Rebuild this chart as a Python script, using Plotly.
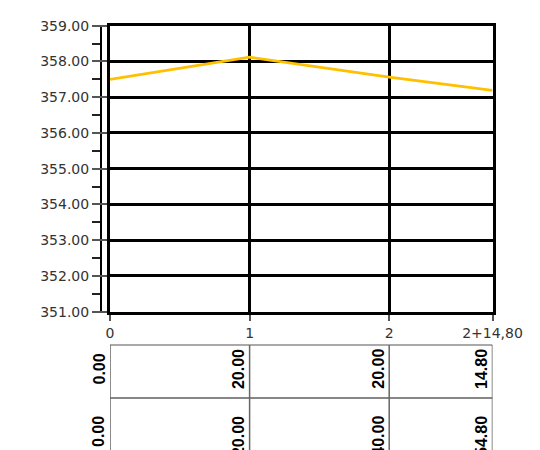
import plotly.graph_objects as go

# ---- data ----
distances = [0.0, 20.0, 40.0, 54.8]
station_labels = ["0", "1", "2", "2+14,80"]
elevations = [357.50, 358.12, 357.56, 357.19]
y_min, y_max = 351, 359

segment_lengths = [0.0] + [distances[i] - distances[i - 1] for i in range(1, len(distances))]
cumulative = distances

W, H = 540, 450
OFF = 8  # page body margin


def px(xp):
    return (xp - OFF) / W


def py(yp):
    return 1 - (yp - OFF) / H


# layout geometry (screen pixels)
x_left_px, x_right_px = 110.0, 492.5
y_top_px, y_bot_px = 25.7, 311.7

fig = go.Figure()
fig.add_trace(go.Scatter(
    x=distances, y=elevations, mode="lines",
    line=dict(color="#FFC000", width=2.7),
    hoverinfo="skip", showlegend=False,
))
fig.add_trace(go.Scatter(
    x=[distances[0]], y=[y_min], yaxis="y2", mode="markers",
    marker=dict(opacity=0), hoverinfo="skip", showlegend=False,
))

tick_font = dict(family="DejaVu Sans", size=14, color="#333333")

fig.update_layout(
    width=W, height=H,
    margin=dict(l=0, r=0, t=0, b=0, pad=0, autoexpand=False),
    paper_bgcolor="white", plot_bgcolor="white",
    xaxis=dict(
        domain=[px(x_left_px), px(x_right_px)],
        range=[distances[0], distances[-1]],
        tickvals=distances, ticktext=station_labels,
        ticks="outside", ticklen=6, tickwidth=1.5, tickcolor="#555555",
        tickfont=tick_font, automargin=False,
        showgrid=True, gridcolor="black", gridwidth=3,
        showline=True, mirror=True, linecolor="black", linewidth=3,
        zeroline=False, fixedrange=True,
    ),
    yaxis=dict(
        domain=[py(y_bot_px), py(y_top_px)],
        range=[y_min, y_max], dtick=1, tick0=y_min,
        ticks="outside", ticklen=8, tickwidth=1.5, tickcolor="#555555",
        showticklabels=False, automargin=False,
        showgrid=True, gridcolor="black", gridwidth=3,
        showline=True, mirror=True, linecolor="black", linewidth=3,
        zeroline=False, fixedrange=True,
    ),
    yaxis2=dict(
        overlaying="y", anchor="free", side="left",
        position=px(x_left_px - 9),
        range=[y_min, y_max], dtick=1, tick0=y_min,
        tickformat=".2f", automargin=False,
        ticks="outside", ticklen=8, tickwidth=1.5, tickcolor="#555555",
        tickfont=tick_font,
        minor=dict(dtick=0.5, ticks="outside", ticklen=8, tickwidth=1.5, tickcolor="#222222"),
        showline=True, linecolor="black", linewidth=2,
        showgrid=False, zeroline=False, fixedrange=True,
    ),
)

# ---- table below the profile ----
row_top = py(345)
row_mid = py(398)
shapes = [
    dict(type="line", xref="x", yref="paper", x0=distances[0], x1=distances[-1],
         y0=row_top, y1=row_top, line=dict(color="#555555", width=1.2)),
    dict(type="line", xref="x", yref="paper", x0=distances[0], x1=distances[-1],
         y0=row_mid, y1=row_mid, line=dict(color="#111111", width=1.2)),
]
for d in distances:
    shapes.append(dict(type="line", xref="x", yref="paper", x0=d, x1=d,
                       y0=py(460), y1=row_top, line=dict(color="#666666", width=1.5)))
fig.update_layout(shapes=shapes)

table_font = dict(family="Liberation Sans", size=16, color="black")
for d, seg, cum in zip(distances, segment_lengths, cumulative):
    fig.add_annotation(x=d, xref="x", y=py(369), yref="paper",
                       text=f"<b>{seg:.2f}</b>", textangle=-90, showarrow=False,
                       xanchor="right", yanchor="middle", xshift=-1, font=table_font)
    fig.add_annotation(x=d, xref="x", y=py(414), yref="paper",
                       text=f"<b>{cum:.2f}</b>", textangle=-90, showarrow=False,
                       xanchor="right", yanchor="top", xshift=-1, font=table_font)

fig.write_html("out.html")
